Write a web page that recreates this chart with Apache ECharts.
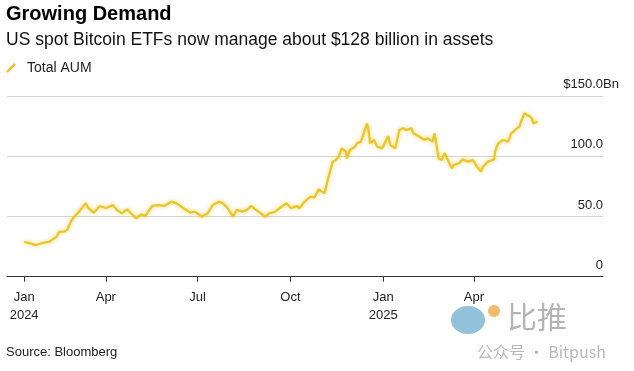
<!DOCTYPE html>
<html>
<head>
<meta charset="utf-8">
<script src="https://cdn.jsdelivr.net/npm/echarts@6/dist/echarts.min.js"></script>
<style>
html,body{margin:0;padding:0;background:#fff;}
#c{width:634px;height:371px;}
</style>
</head>
<body>
<div id="c"></div>
<script>
var titleText = 'Growing Demand';
var subtitleText = 'US spot Bitcoin ETFs now manage about $128 billion in assets';
var seriesName = 'Total AUM';
var sourceText = 'Source: Bloomberg';

var dates = [
'2024-01-11','2024-01-17','2024-01-23','2024-01-30','2024-02-05','2024-02-12','2024-02-15','2024-02-20','2024-02-23','2024-02-27',
'2024-03-04','2024-03-08','2024-03-12','2024-03-15','2024-03-20','2024-03-26','2024-04-01','2024-04-08','2024-04-12','2024-04-17',
'2024-04-22','2024-04-26','2024-05-01','2024-05-06','2024-05-10','2024-05-13','2024-05-17','2024-05-23','2024-05-29','2024-06-05',
'2024-06-10','2024-06-17','2024-06-24','2024-06-28','2024-07-03','2024-07-05','2024-07-11','2024-07-16','2024-07-22','2024-07-26',
'2024-07-31','2024-08-05','2024-08-09','2024-08-14','2024-08-19','2024-08-23','2024-08-29','2024-09-06','2024-09-10','2024-09-16',
'2024-09-20','2024-09-27','2024-10-02','2024-10-07','2024-10-10','2024-10-15','2024-10-21','2024-10-25','2024-10-29','2024-11-04',
'2024-11-07','2024-11-12','2024-11-15','2024-11-18','2024-11-21','2024-11-25','2024-11-26','2024-11-29','2024-12-04','2024-12-06',
'2024-12-10','2024-12-16','2024-12-18','2024-12-19','2024-12-23','2024-12-26','2024-12-31','2025-01-06','2025-01-08','2025-01-13',
'2025-01-17','2025-01-21','2025-01-24','2025-01-29','2025-01-31','2025-02-06','2025-02-11','2025-02-14','2025-02-19','2025-02-21',
'2025-02-25','2025-02-28','2025-03-03','2025-03-10','2025-03-12','2025-03-17','2025-03-21','2025-03-26','2025-03-31','2025-04-03',
'2025-04-08','2025-04-10','2025-04-15','2025-04-21','2025-04-22','2025-04-25','2025-04-30','2025-05-05','2025-05-08','2025-05-12',
'2025-05-16','2025-05-21','2025-05-27','2025-05-29','2025-05-30','2025-06-03'
];
var aum = [
29,27.7,26.3,28.2,29,33.2,37.4,37.4,39.3,47,
52.6,56.8,60.9,56.8,53.1,58.7,56.8,59.5,55.4,52.6,
55.9,52.6,48.5,51.8,50.4,54,58.7,59.5,58.7,62.3,
60.9,56.8,53.1,54,51.2,49.8,52.6,59.5,62.3,60.9,
56.8,49.8,55.4,54,55.4,58.7,54.8,49.8,52.6,54,
56.8,60.9,56.8,58.7,56.8,62.3,66.4,65.9,72.5,69.2,
80.3,95.5,96.9,99.6,106.6,103.8,98.3,105.2,107.9,110.7,
112.1,127.3,119,110.7,113.5,107.9,106.6,116.8,109.3,106.6,
121.8,123.2,121.8,123.2,119,116.2,113.5,114.9,112.1,119,
98.3,96.9,102.4,90,92.7,94.1,97.4,95.5,96.9,92.7,
87.2,91.3,95.5,97.4,103.8,110.7,113.5,112.1,119,121.8,
124.5,135.6,132.8,130.1,127.3,128.7
];

var xTickDates = ['2024-01-11','2024-04-01','2024-07-01','2024-10-01','2025-01-01','2025-04-01'];
var xTickLabels = ['Jan\n2024','Apr','Jul','Oct','Jan\n2025','Apr'];
var yTickValues = [0, 50, 100, 150];
var yTickLabels = ['0', '50.0', '100.0', '150.0'];
var yTopPrefix = '$';
var yTopSuffix = 'Bn';

function ts(s){ var p = s.split('-'); return Date.UTC(+p[0], +p[1]-1, +p[2]); }
var xTickTs = xTickDates.map(ts);
var seriesData = dates.map(function(d,i){ return [ts(d), aum[i]]; });

var FONT = '"Liberation Sans", Arial, Helvetica, sans-serif';
var chart = echarts.init(document.getElementById('c'), null, {renderer:'canvas'});
chart.setOption({
  backgroundColor: '#ffffff',
  animation: false,
  title: [{
    text: titleText,
    left: 6, top: 4, padding: 0,
    textStyle: {fontFamily: FONT, fontSize: 20, fontWeight: 'bold', color: '#000'},
    subtext: subtitleText,
    subtextStyle: {fontFamily: FONT, fontSize: 17.5, color: '#111'},
    itemGap: 7
  },{
    text: sourceText,
    left: 6, top: 346, padding: 0,
    textStyle: {fontFamily: FONT, fontSize: 13, fontWeight: 'normal', color: '#222'}
  }],
  legend: {
    left: 6, top: 61, padding: 0,
    itemWidth: 10, itemHeight: 10,
    icon: 'path://M0,9 L9,0 L11,2 L2,11 Z',
    data: [{name: seriesName, itemStyle: {color: '#EBC52C'}}],
    textStyle: {fontFamily: FONT, fontSize: 14, color: '#222', padding: [0,0,0,6]}
  },
  grid: {left: 7, right: 31, top: 96, bottom: 94.3, containLabel: false},
  xAxis: {
    type: 'value',
    min: ts('2023-12-25'), max: ts('2025-08-07'),
    axisLine: {show: true, lineStyle: {color: '#333', width: 1}},
    axisTick: {show: true, customValues: xTickTs, length: 5, lineStyle: {color: '#333'}},
    axisLabel: {
      customValues: xTickTs,
      formatter: function(v){ var i = xTickTs.indexOf(v); return i >= 0 ? xTickLabels[i] : ''; },
      fontFamily: FONT, fontSize: 13, color: '#222', lineHeight: 18, margin: 12
    },
    splitLine: {show: false}
  },
  yAxis: {
    type: 'value', position: 'right',
    min: 0, max: 150, interval: 50,
    axisLine: {show: false}, axisTick: {show: false},
    splitLine: {show: true, lineStyle: {color: '#d4d4d4', width: 1}},
    axisLabel: {
      inside: true, margin: -16,
      verticalAlign: 'bottom', padding: [0,0,5,0],
      fontFamily: FONT, fontSize: 13, color: '#222',
      formatter: function(v){
        var i = yTickValues.indexOf(v);
        if (i < 0) return '';
        if (i === yTickValues.length - 1) return '{d|' + yTopPrefix + yTickLabels[i] + '}{u|' + yTopSuffix + '}';
        return '{d|' + yTickLabels[i] + '}{u| }';
      },
      rich: {
        d: {fontFamily: FONT, fontSize: 13, color: '#222'},
        u: {fontFamily: FONT, fontSize: 13, color: '#222', width: 16}
      }
    }
  },
  series: [{
    name: seriesName,
    type: 'line',
    data: seriesData,
    showSymbol: false,
    lineStyle: {color: '#EBC52C', width: 2.3, shadowBlur: 4, shadowColor: 'rgba(240,205,60,0.75)'},
    itemStyle: {color: '#EBC52C'}
  }],
  graphic: [
    {type: 'ellipse', shape: {cx: 468, cy: 320, rx: 17, ry: 14}, style: {fill: '#7fb6d6', opacity: 0.85}, silent: true},
    {type: 'circle', shape: {cx: 494, cy: 311, r: 6}, style: {fill: '#efb45a', opacity: 0.9}, silent: true},
    {type: 'text', left: 507, top: 302, style: {text: '比推', font: '30px "Noto Sans CJK SC"', fill: '#b4b4b4'}, silent: true},
    {type: 'text', left: 477, top: 344, style: {text: '公众号 · Bitpush', font: '16px "Noto Sans CJK SC"', fill: '#b8b8b8'}, silent: true}
  ]
});
</script>
</body>
</html>
